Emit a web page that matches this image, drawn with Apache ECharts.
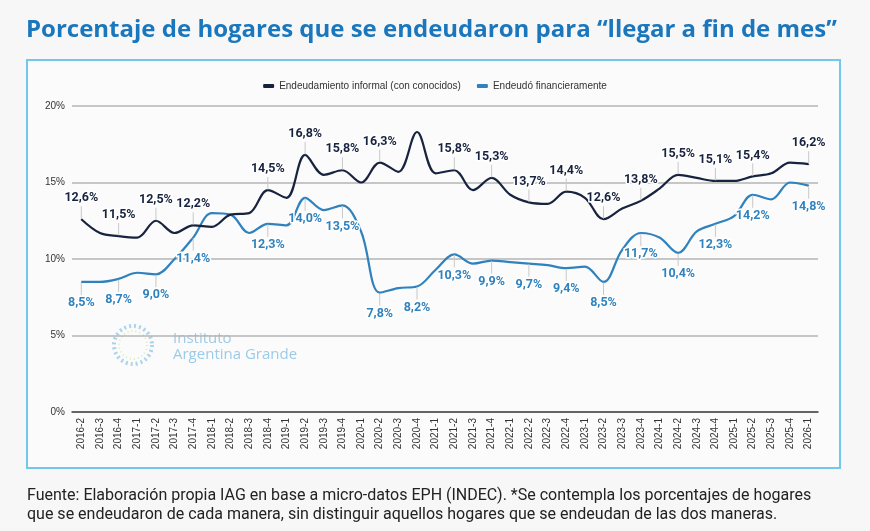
<!DOCTYPE html>
<html>
<head>
<meta charset="utf-8">
<script src="https://cdn.jsdelivr.net/npm/echarts@6/dist/echarts.min.js"></script>
<style>
html,body{margin:0;padding:0;background:#f7f7f7;}
#c{width:870px;height:531px;}
</style>
</head>
<body>
<div id="c"></div>
<script>
const categories = ["2016-2","2016-3","2016-4","2017-1","2017-2","2017-3","2017-4","2018-1","2018-2","2018-3","2018-4","2019-1","2019-2","2019-3","2019-4","2020-1","2020-2","2020-3","2020-4","2021-1","2021-2","2021-3","2021-4","2022-1","2022-2","2022-3","2022-4","2023-1","2023-2","2023-3","2023-4","2024-1","2024-2","2024-3","2024-4","2025-1","2025-2","2025-3","2025-4","2026-1"];
const informal = [12.6,11.7,11.5,11.4,12.5,11.7,12.2,12.1,12.9,13.0,14.5,14.0,16.8,15.5,15.8,15.0,16.3,15.7,18.3,15.6,15.8,14.5,15.3,14.2,13.7,13.6,14.4,14.0,12.6,13.3,13.8,14.6,15.5,15.3,15.1,15.1,15.4,15.6,16.3,16.2];
const financiero = [8.5,8.5,8.7,9.1,9.0,10.0,11.4,13.0,12.9,11.7,12.3,12.2,14.0,13.2,13.5,11.8,7.8,8.1,8.2,9.3,10.3,9.7,9.9,9.8,9.7,9.6,9.4,9.5,8.5,10.6,11.7,11.4,10.4,11.8,12.3,12.8,14.2,13.9,15.0,14.8];
const informalLabelIdx = [0,2,4,6,10,12,14,16,20,22,24,26,28,30,32,34,36,39];
const financieroLabelIdx = [0,2,4,6,10,12,14,16,18,20,22,24,26,28,30,32,34,36,39];
const yTicks = [0,5,10,15,20];
const seriesNames = ["Endeudamiento informal (con conocidos)","Endeudó financieramente"];

const fmt = v => v.toFixed(1).replace('.', ',') + '%';

function buildData(values, idxList, color, above) {
  return values.map((v, i) => {
    const show = idxList.indexOf(i) >= 0;
    return {
      value: v,
      label: {
        show: show,
        position: above ? 'top' : 'bottom',
        distance: 4,
        formatter: p => fmt(p.value),
        color: color,
        fontFamily: 'Roboto',
        fontWeight: 'bold',
        fontSize: 12.5,
        textBorderColor: '#ffffff',
        textBorderWidth: 3
      },
      labelLine: { show: show }
    };
  });
}

const chart = echarts.init(document.getElementById('c'), null, {renderer: 'canvas'});
const darkColor = '#17233f';
const blueColor = '#2f82bd';

chart.setOption({
  backgroundColor: '#f7f7f7',
  animation: false,
  title: {
    text: 'Porcentaje de hogares que se endeudaron para \u201cllegar a fin de mes\u201d',
    left: 21, top: 13,
    textStyle: { fontFamily: 'Open Sans', fontWeight: 'bold', fontSize: 24, color: '#1a77bd' }
  },
  graphic: [
    { type: 'rect', z: -10, shape: { x: 27, y: 60, width: 813, height: 408 },
      style: { fill: '#fbfbfb', stroke: '#72c8ec', lineWidth: 2 } },
    { type: 'circle', z: -5, shape: { cx: 133, cy: 345, r: 19 },
      style: { fill: 'none', stroke: '#9ccbe8', lineWidth: 4, lineDash: [2, 3], opacity: 0.85 } },
    { type: 'circle', z: -5, shape: { cx: 133, cy: 345, r: 14 },
      style: { fill: 'none', stroke: '#d6e8b0', lineWidth: 2, lineDash: [1, 3], opacity: 0.85 } },
    { type: 'text', z: -5, left: 173, top: 331,
      style: { text: 'Instituto', fill: '#9ccbe8', font: '15px "Open Sans"' } },
    { type: 'text', z: -5, left: 173, top: 347,
      style: { text: 'Argentina Grande', fill: '#9ccbe8', font: '15px "Open Sans"' } },
    { type: 'text', left: 27, top: 486,
      style: { text: 'Fuente: Elaboración propia IAG en base a micro-datos EPH (INDEC). *Se contempla los porcentajes de hogares\nque se endeudaron de cada manera, sin distinguir aquellos hogares que se endeudan de las dos maneras.',
        fill: '#222222', font: '16px Roboto', lineHeight: 19 } }
  ],
  legend: {
    top: 76, left: 'center',
    icon: 'roundRect', itemWidth: 11, itemHeight: 4, itemGap: 16,
    textStyle: { fontFamily: 'Liberation Sans', fontSize: 10, color: '#333' },
    data: seriesNames
  },
  grid: { left: 72, right: 52, top: 106, bottom: 119 },
  xAxis: {
    type: 'category', data: categories, boundaryGap: true,
    axisLine: { lineStyle: { color: '#444', width: 1.5 } },
    axisTick: { show: false },
    axisLabel: { rotate: 90, interval: 0, fontSize: 10, color: '#333', fontFamily: 'Liberation Sans', margin: 6 }
  },
  yAxis: {
    type: 'value', min: yTicks[0], max: yTicks[yTicks.length - 1], interval: 5,
    axisLabel: { formatter: '{value}%', fontSize: 10, color: '#333', fontFamily: 'Liberation Sans', margin: 7 },
    splitLine: { lineStyle: { color: '#b5b5b5', width: 1.5 } },
    axisLine: { show: false }, axisTick: { show: false }
  },
  series: [
    {
      name: seriesNames[0], type: 'line', smooth: 0.35,
      data: buildData(informal, informalLabelIdx, darkColor, true),
      symbol: 'circle', symbolSize: 1, showSymbol: true,
      itemStyle: { color: darkColor },
      lineStyle: { color: darkColor, width: 2.2 },
      labelLayout: { dy: -10 },
      labelLine: { show: true, lineStyle: { color: '#c8c8c8', width: 1 } },
      z: 3
    },
    {
      name: seriesNames[1], type: 'line', smooth: 0.35,
      data: buildData(financiero, financieroLabelIdx, blueColor, false),
      symbol: 'circle', symbolSize: 1, showSymbol: true,
      itemStyle: { color: blueColor },
      lineStyle: { color: blueColor, width: 2.2 },
      labelLayout: { dy: 10 },
      labelLine: { show: true, lineStyle: { color: '#c8c8c8', width: 1 } },
      z: 2
    }
  ]
});
</script>
</body>
</html>
